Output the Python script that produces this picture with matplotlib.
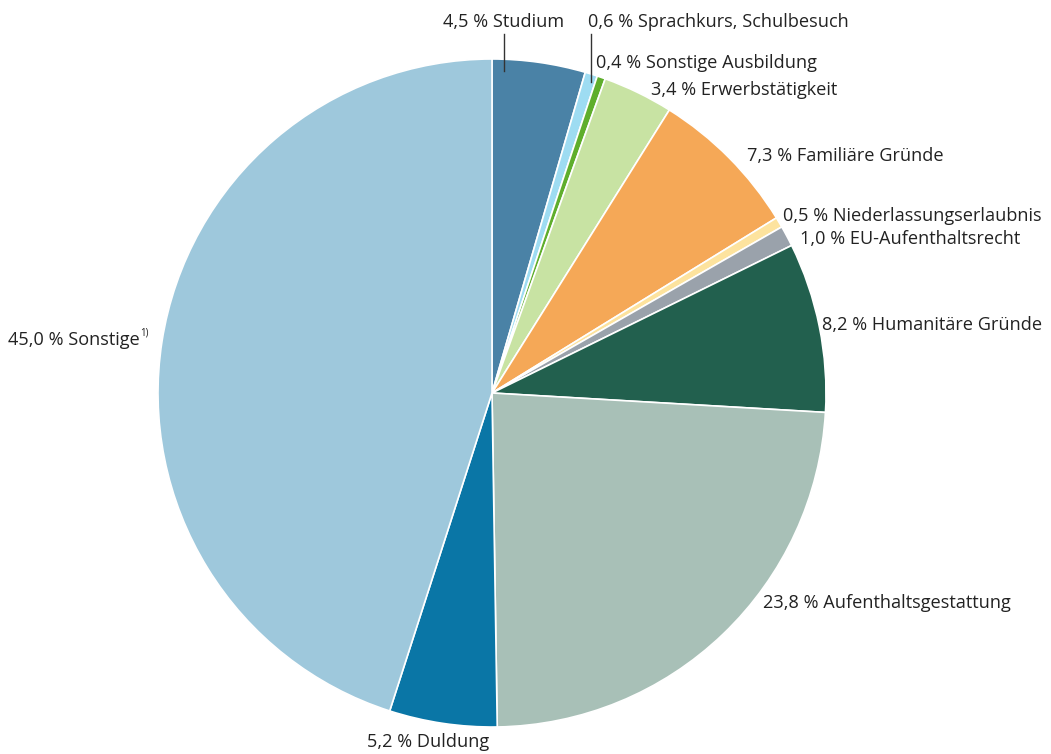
import numpy as np
import matplotlib.pyplot as plt

plt.rcParams['font.family'] = ['Open Sans', 'DejaVu Sans']

# Anteile in Prozent, im Uhrzeigersinn ab 12 Uhr
kategorien = ['Studium', 'Sprachkurs, Schulbesuch', 'Sonstige Ausbildung',
              'Erwerbstätigkeit', 'Familiäre Gründe', 'Niederlassungserlaubnis',
              'EU-Aufenthaltsrecht', 'Humanitäre Gründe', 'Aufenthaltsgestattung',
              'Duldung', 'Sonstige']
werte = [4.5, 0.6, 0.4, 3.4, 7.3, 0.5, 1.0, 8.2, 23.8, 5.2, 45.0]
farben = ['#4a82a6', '#9edcf2', '#5fae2c', '#c8e3a3', '#f5a857', '#fde39e',
          '#9aa2ab', '#22604e', '#a8c0b7', '#0a76a6', '#9ec8dc']
beschriftungen = ['4,5 % Studium', '0,6 % Sprachkurs, Schulbesuch',
                  '0,4 % Sonstige Ausbildung', '3,4 % Erwerbstätigkeit',
                  '7,3 % Familiäre Gründe', '0,5 % Niederlassungserlaubnis',
                  '1,0 % EU-Aufenthaltsrecht', '8,2 % Humanitäre Gründe',
                  '23,8 % Aufenthaltsgestattung', '5,2 % Duldung',
                  '45,0 % Sonstige']

W, H = 1051, 754
fig = plt.figure(figsize=(W / 100, H / 100), dpi=100)
ax = fig.add_axes([0, 0, 1, 1])

cx, cy, r = 492, H - 393, 334
ax.pie(werte, colors=farben, startangle=90, counterclock=False,
       center=(cx, cy), radius=r, frame=True,
       wedgeprops=dict(edgecolor='white', linewidth=1.2))
ax.set_xlim(0, W)
ax.set_ylim(0, H)
ax.axis('off')

# Beschriftungen (Pixelpositionen von oben)
pos = [(504, 22, 'center'), (588, 22, 'left'), (596, 63, 'left'),
       (651, 90, 'left'), (747, 156, 'left'), (783, 216, 'left'),
       (800, 239, 'left'), (822, 325, 'left'), (763, 603, 'left'),
       (428, 742, 'center'), (140, 340, 'right')]
for (x, y, ha), txt in zip(pos, beschriftungen):
    ax.text(x, H - y, txt, ha=ha, va='center', fontsize=13.1, color='#222222')
ax.text(140, H - 333, '1)', ha='left', va='center', fontsize=7, color='#222222')

# Hinweislinien
ax.plot([504, 504], [H - 34, H - 71], color='#333333', linewidth=1)
ax.plot([591, 591], [H - 34, H - 82], color='#333333', linewidth=1)

fig.savefig('out.png', dpi=100)
